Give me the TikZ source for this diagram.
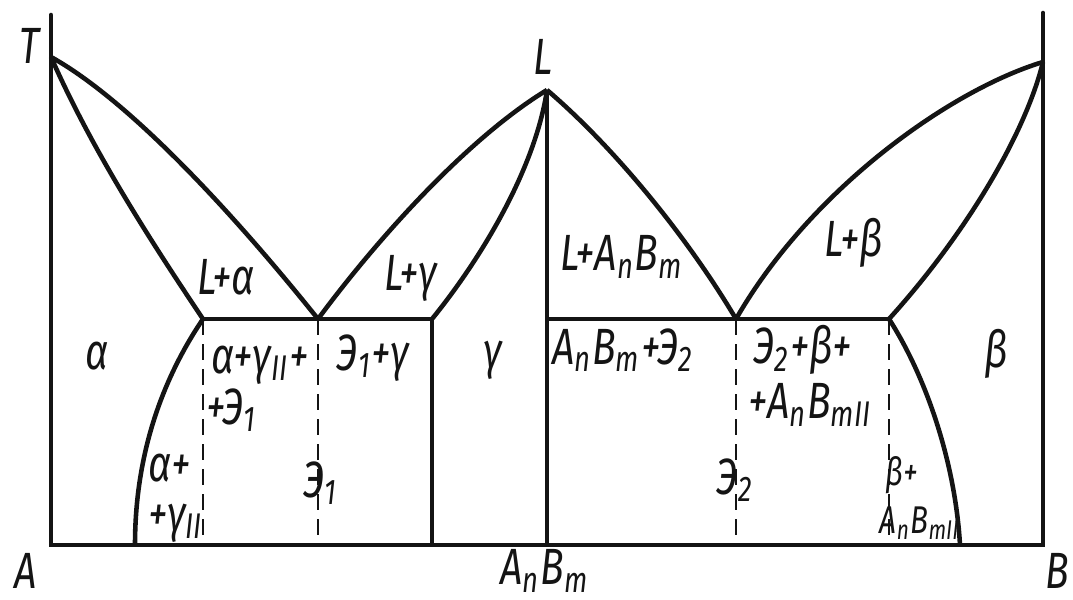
\documentclass[tikz,border=0pt]{standalone}
\usepackage{fontspec}
\setmainfont{Fira Sans}[FakeStretch=0.77]
\usepackage{tikz}
\usetikzlibrary{positioning}
\definecolor{inkc}{RGB}{20,20,20}
\newcommand{\lo}[1]{\textsubscript{#1}}
\newcommand{\AnBm}{A\lo{n}B\lo{m}}
\tikzset{
  axis/.style    = {draw=inkc, line width=1.3pt, line cap=round},
  phase/.style   = {draw=inkc, line width=1.3pt, line join=round},
  tie/.style     = {draw=inkc, line width=0.5pt, dash pattern=on 1.6mm off 0.9mm},
  region/.style  = {font=\fontsize{14.5}{16}\selectfont\itshape, text=inkc, inner sep=1pt},
  sregion/.style = {font=\fontsize{11}{13}\selectfont\itshape, text=inkc, inner sep=1pt},
}
\begin{document}
\begin{tikzpicture}[x=0.1mm, y=-0.1mm]
\useasboundingbox (0,0) rectangle (1073,600);

% ---------- key points ----------
\coordinate (At) at (51,15);
\coordinate (Ab) at (51,545);
\coordinate (Bt) at (1043,13);
\coordinate (Bb) at (1043,545);
\coordinate (T)  at (51,57);
\coordinate (TB) at (1043,62);
\coordinate (L)  at (547,90);
\coordinate (Cb) at (547,545);
\coordinate (E1) at (318,319);
\coordinate (E1a) at (203,319);
\coordinate (E1g) at (432,319);
\coordinate (E2) at (736,319);
\coordinate (E2c) at (547,319);
\coordinate (E2b) at (889,319);
\coordinate (S1) at (135,545);
\coordinate (S2) at (960,545);

% ---------- frame and compound ----------
\draw[axis] (At) -- (Ab) -- (Bb) -- (Bt);
\draw[phase] (L) -- (Cb);

% ---------- left half: A -- AnBm ----------
\draw[phase] (T) .. controls (141,107) and (258,244) .. (E1);
\draw[phase] (T) .. controls (92,150) and (150,240) .. (E1a);
\draw[phase] (L) .. controls (468,138) and (378,238) .. (E1);
\draw[phase] (L) .. controls (535,170) and (480,260) .. (E1g);
\draw[phase] (E1a) -- (E1g) -- (E1g |- Ab);
\draw[phase] (E1a) .. controls (165,375) and (135,450) .. (S1);
\draw[tie] (E1a) -- (E1a |- Ab);
\draw[tie] (E1) -- (E1 |- Ab);

% ---------- right half: AnBm -- B ----------
\draw[phase] (L) .. controls (615,148) and (688,238) .. (E2);
\draw[phase] (TB) .. controls (950,90) and (810,190) .. (E2);
\draw[phase] (TB) .. controls (1025,135) and (965,235) .. (E2b);
\draw[phase] (E2c) -- (E2b);
\draw[phase] (E2b) .. controls (925,375) and (955,460) .. (S2);
\draw[tie] (E2) -- (E2 |- Ab);
\draw[tie] (E2b) -- (E2b |- Ab);

% ---------- axis labels ----------
\node[region] (lT) at (30,46) {T};
\node[region] (lL) at (543,57) {L};
\node[region] (lA) at (26,571) {A};
\node[region] (lC) at (545,571) {\AnBm};
\node[region] (lB) at (1057,571) {B};

% ---------- phase fields ----------
\node[region] (fLa) at (226,277) {L+α};
\node[region] (fLg) at (411,278) {L+γ};
\node[region] (fLc) at (622,257) {L+\AnBm};
\node[region] (fLb) at (854,243) {L+β};
\node[region] (fa) at (97,356) {α};
\node[region] (fag) at (260,365) {α+γ\lo{II}+};
\node[region] (fage) at (232,410) {+Э\lo{1}};
\node[region] (fa2) at (170,468) {α+};
\node[region] (fg2) at (176,523) {+γ\lo{II}};
\node[region] (fe1) at (321,483) {Э\lo{1}};
\node[region] (feg) at (373,358) {Э\lo{1}+γ};
\node[region] (fg) at (493,360) {γ};
\node[region] (fce) at (623,350) {\AnBm+Э\lo{2}};
\node[region] (feb) at (803,350) {Э\lo{2}+β+};
\node[region] (febc) at (810,405) {+A\lo{n}B\lo{mII}};
\node[region] (fb) at (996,354) {β};
\node[region] (fe2) at (735,480) {Э\lo{2}};
\node[sregion] (fb2) at (902,475) {β+};
\node[sregion] (fbc) at (920,523) {A\lo{n}B\lo{mII}};
\end{tikzpicture}
\end{document}
